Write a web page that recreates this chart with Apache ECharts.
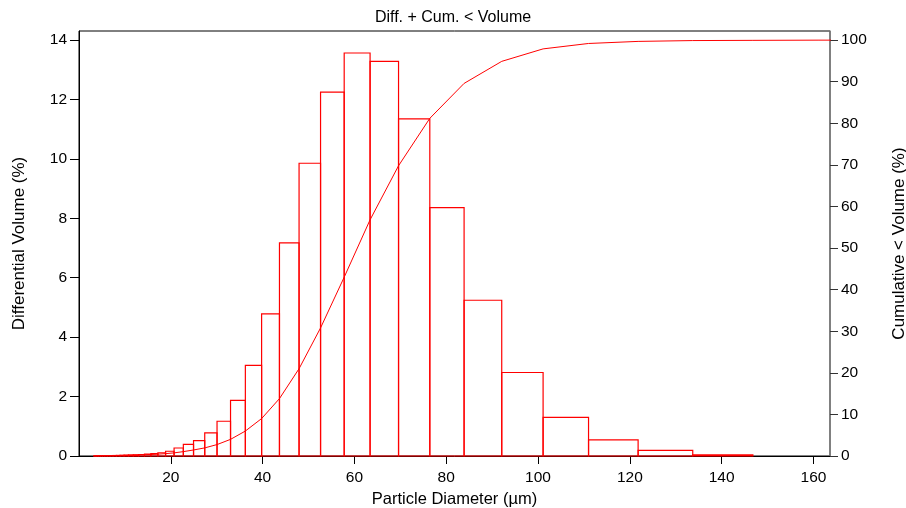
<!DOCTYPE html>
<html>
<head>
<meta charset="utf-8">
<script src="https://cdn.jsdelivr.net/npm/echarts@6/dist/echarts.min.js"></script>
<style>
html, body { margin: 0; background: #fff; }
#main { width: 906px; height: 508px; }
</style>
</head>
<body>
<div id="main"></div>
<script>
// bin edges (µm), differential volume per bin (%), cumulative < volume at each edge (%)
var binEdges = [3.206, 3.519, 3.863, 4.241, 4.656, 5.111, 5.611, 6.159, 6.761, 7.422,
  8.148, 8.944, 9.819, 10.78, 11.83, 12.99, 14.26, 15.65, 17.18, 18.86,
  20.71, 22.73, 24.95, 27.39, 30.07, 33.01, 36.24, 39.78, 43.67, 47.94,
  52.62, 57.77, 63.41, 69.61, 76.42, 83.89, 92.09, 101.1, 111.0, 121.8,
  133.7, 146.8];
var diffVolume = [0.005, 0.006, 0.007, 0.008, 0.009, 0.01, 0.011, 0.012, 0.014, 0.016,
  0.02, 0.025, 0.03, 0.035, 0.04, 0.05, 0.06, 0.08, 0.11, 0.16,
  0.27, 0.39, 0.52, 0.78, 1.17, 1.87, 3.05, 4.78, 7.17, 9.85,
  12.24, 13.56, 13.28, 11.34, 8.36, 5.24, 2.81, 1.30, 0.54, 0.19,
  0.04];
var cumX = binEdges.concat([161.2, 177.0]);
var cumVolume = [0, 0.005, 0.01, 0.02, 0.03, 0.04, 0.05, 0.06, 0.07, 0.085,
  0.1, 0.12, 0.15, 0.18, 0.21, 0.25, 0.3, 0.36, 0.45, 0.57,
  0.75, 1.05, 1.45, 1.95, 2.75, 4.0, 6.0, 9.0, 13.8, 21.0,
  30.8, 43.0, 56.8, 69.8, 81.2, 89.6, 94.9, 97.9, 99.2, 99.7,
  99.9, 99.95, 100, 100];

var xTicks = [20, 40, 60, 80, 100, 120, 140, 160];
var diffTicks = [0, 2, 4, 6, 8, 10, 12, 14];
var cumTicks = [0, 10, 20, 30, 40, 50, 60, 70, 80, 90, 100];

var barData = [];
for (var i = 0; i < diffVolume.length; i++) {
  barData.push([binEdges[i], binEdges[i + 1], diffVolume[i]]);
}
var lineData = [];
for (var j = 0; j < cumX.length; j++) {
  lineData.push([cumX[j], cumVolume[j]]);
}

var font = "'Liberation Sans', Arial, sans-serif";

var myChart = echarts.init(document.getElementById('main'));
myChart.setOption({
  animation: false,
  textStyle: { fontFamily: font },
  title: {
    text: 'Diff. + Cum. < Volume',
    left: 'center',
    top: 5,
    textStyle: { fontSize: 16, fontWeight: 'normal', color: '#000', fontFamily: font }
  },
  grid: {
    left: 79, right: 76, top: 31, bottom: 52,
    outerBoundsMode: 'none',
    containLabel: false,
    show: true, borderColor: '#000', borderWidth: 1, backgroundColor: '#fff'
  },
  xAxis: {
    type: 'value',
    min: 0,
    max: 163.6,
    name: 'Particle Diameter (µm)',
    nameLocation: 'middle',
    nameGap: 32,
    nameTextStyle: { fontSize: 16.5, color: '#000' },
    axisLine: { lineStyle: { color: '#000', width: 1 } },
    axisTick: { length: 8, lineStyle: { color: '#000' }, customValues: xTicks },
    axisLabel: { fontSize: 15.5, color: '#000', margin: 14, customValues: xTicks },
    splitLine: { show: false }
  },
  yAxis: [
    {
      type: 'value',
      min: 0,
      max: 14.3,
      position: 'left',
      name: 'Differential Volume (%)',
      nameLocation: 'middle',
      nameRotate: 90,
      nameGap: 51,
      nameTextStyle: { fontSize: 17, color: '#000' },
      axisLine: { show: true, lineStyle: { color: '#000', width: 1 } },
      axisTick: { show: true, length: 9, lineStyle: { color: '#000' }, customValues: diffTicks },
      axisLabel: { fontSize: 15.5, color: '#000', margin: 12, customValues: diffTicks },
      splitLine: { show: false }
    },
    {
      type: 'value',
      min: 0,
      max: 102.2,
      position: 'right',
      name: 'Cumulative < Volume (%)',
      nameLocation: 'middle',
      nameRotate: 90,
      nameGap: 61,
      nameTextStyle: { fontSize: 17, color: '#000' },
      axisLine: { show: true, lineStyle: { color: '#808080', width: 1.5 } },
      axisTick: { show: true, length: 8, lineStyle: { color: '#333' }, customValues: cumTicks },
      axisLabel: { fontSize: 15.5, color: '#000', margin: 11, customValues: cumTicks },
      splitLine: { show: false }
    }
  ],
  series: [
    {
      name: 'Differential Volume',
      type: 'custom',
      xAxisIndex: 0,
      yAxisIndex: 0,
      data: barData,
      encode: { x: [0, 1], y: 2 },
      renderItem: function (params, api) {
        var p0 = api.coord([api.value(0), 0]);
        var p1 = api.coord([api.value(1), api.value(2)]);
        return {
          type: 'rect',
          shape: { x: p0[0], y: p1[1], width: p1[0] - p0[0], height: p0[1] - p1[1] },
          style: { fill: 'none', stroke: '#ff0000', lineWidth: 1.2 }
        };
      },
      z: 3
    },
    {
      name: 'Cumulative < Volume',
      type: 'line',
      yAxisIndex: 1,
      data: lineData,
      showSymbol: false,
      symbol: 'none',
      lineStyle: { color: '#ff0000', width: 1 },
      clip: true,
      z: 4
    }
  ]
});
</script>
</body>
</html>
